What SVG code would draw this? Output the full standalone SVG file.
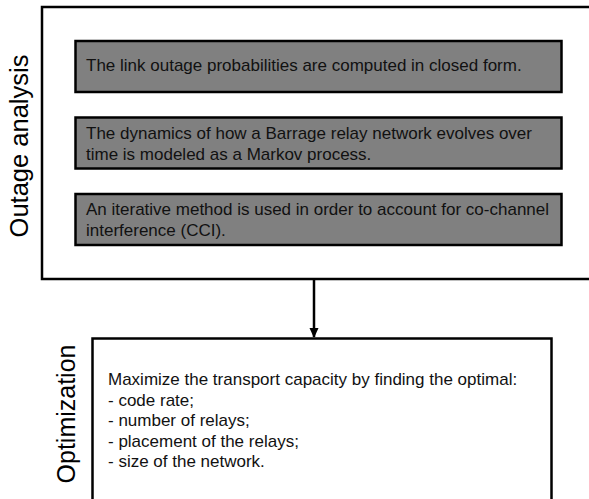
<svg xmlns="http://www.w3.org/2000/svg" width="589" height="499" viewBox="0 0 589 499">
  <style>
    .frame { fill: #ffffff; stroke: #000000; stroke-width: 2.5; }
    .step { fill: #808080; stroke: #000000; stroke-width: 2.5; }
    .txt { font-family: "Liberation Sans", Arial, sans-serif; font-size: 17px; fill: #111111; }
    .side { font-family: "Liberation Sans", Arial, sans-serif; fill: #000000; text-anchor: middle; }
    .link { stroke: #000000; stroke-width: 2.5; fill: none; }
  </style>
  <defs>
    <marker id="arrow" markerWidth="10" markerHeight="10" refX="9" refY="5" orient="auto" markerUnits="userSpaceOnUse">
      <path d="M0,0.5 L10,5 L0,9.5 Z" fill="#000000"/>
    </marker>
  </defs>
  <rect width="589" height="499" fill="#ffffff"/>

  <!-- Outage analysis stage -->
  <g id="outage">
    <rect class="frame" x="42" y="7" width="570" height="272"/>
    <text class="side" font-size="25.5" transform="translate(28,146) rotate(-90)">Outage analysis</text>
  </g>
  <g id="step1">
    <rect class="step" x="75.5" y="41" width="486" height="51"/>
    <text class="txt" x="86" y="71">The link outage probabilities are computed in closed form.</text>
  </g>
  <g id="step2">
    <rect class="step" x="75.5" y="117.5" width="486" height="51"/>
    <text class="txt" x="86" y="138.5">The dynamics of how a Barrage relay network evolves over</text>
    <text class="txt" x="86" y="159.5">time is modeled as a Markov process.</text>
  </g>
  <g id="step3">
    <rect class="step" x="75.5" y="194" width="486" height="51"/>
    <text class="txt" x="86" y="215">An iterative method is used in order to account for co-channel</text>
    <text class="txt" x="86" y="235.5">interference (CCI).</text>
  </g>

  <!-- Optimization stage -->
  <g id="optimization">
    <rect class="frame" x="92.5" y="338.5" width="459" height="190"/>
    <text class="side" font-size="25" transform="translate(75,414) rotate(-90)">Optimization</text>
    <text class="txt" x="108" y="385">Maximize the transport capacity by finding the optimal:</text>
    <text class="txt" x="108" y="405.5">- code rate;</text>
    <text class="txt" x="108" y="426">- number of relays;</text>
    <text class="txt" x="108" y="446.5">- placement of the relays;</text>
    <text class="txt" x="108" y="467">- size of the network.</text>
  </g>

  <!-- connectors -->
  <g id="connectors">
    <line class="link" x1="314" y1="280" x2="314" y2="337" marker-end="url(#arrow)"/>
  </g>
</svg>
